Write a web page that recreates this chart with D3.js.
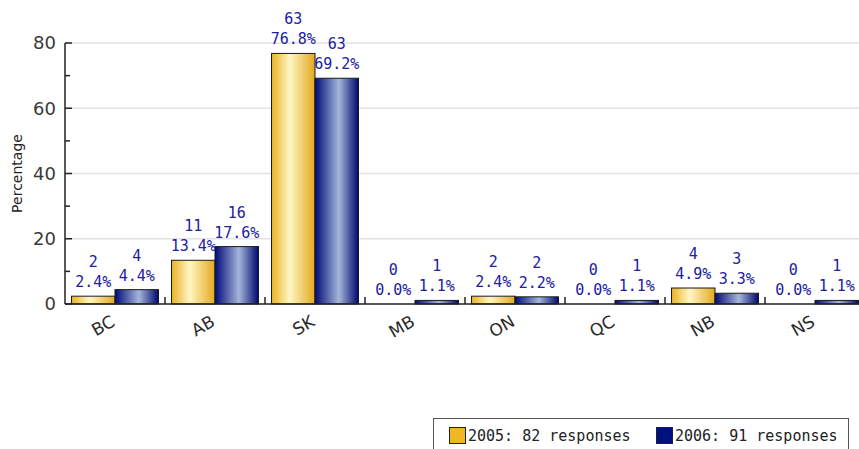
<!DOCTYPE html>
<html>
<head>
<meta charset="utf-8">
<script src="https://cdn.jsdelivr.net/npm/d3@7"></script>
<style>
  html, body { margin: 0; padding: 0; background: #fff; }
  svg { display: block; }
</style>
</head>
<body>
<svg id="chart" width="859" height="449"></svg>
<script>
// Provinces surveyed
const provinces = ["BC", "AB", "SK", "MB", "ON", "QC", "NB", "NS"];
// Survey years shown as paired bars
const seriesNames = ["2005", "2006"];
const legendLabels = ["2005: 82 responses", "2006: 91 responses"];
// Response counts per province
const counts2005 = [2, 11, 63, 0, 2, 0, 4, 0];
const counts2006 = [4, 16, 63, 1, 2, 1, 3, 1];
// Share of responses (%) per province
const pct2005 = [2.4, 13.4, 76.8, 0.0, 2.4, 0.0, 4.9, 0.0];
const pct2006 = [4.4, 17.6, 69.2, 1.1, 2.2, 1.1, 3.3, 1.1];
// Y axis ticks
const yMajorTicks = [0, 20, 40, 60, 80];
const yMinorTicks = [10, 30, 50, 70];

const svg = d3.select("#chart");
const plotLeft = 65, plotRight = 865, plotTop = 43, plotBottom = 304;

const x0 = d3.scaleBand().domain(provinces).range([plotLeft, plotRight])
  .paddingInner(0.13).paddingOuter(0.065);
const x1 = d3.scaleBand().domain(seriesNames).range([0, x0.bandwidth()]);
const y = d3.scaleLinear().domain([0, 80]).range([plotBottom, plotTop]);

const defs = svg.append("defs");
function hGrad(id, stops) {
  const g = defs.append("linearGradient").attr("id", id)
    .attr("x1", "0%").attr("x2", "100%").attr("y1", "0%").attr("y2", "0%");
  stops.forEach(([o, c]) => g.append("stop").attr("offset", o).attr("stop-color", c));
}
hGrad("gGold", [["0%", "#e9b224"], ["42%", "#fff6c4"], ["100%", "#e3a91c"]]);
hGrad("gBlue", [["0%", "#000b78"], ["55%", "#a4b6da"], ["100%", "#00096e"]]);

// Gridlines
svg.append("g").selectAll("line").data(yMajorTicks.filter(d => d > 0)).join("line")
  .attr("x1", plotLeft).attr("x2", plotRight)
  .attr("y1", d => y(d)).attr("y2", d => y(d))
  .attr("stroke", "#e3e3e3").attr("stroke-width", 1.5);

// Bars
const rows = provinces.map((p, i) => ({
  p,
  vals: [
    { s: "2005", pct: pct2005[i], n: counts2005[i], fill: "url(#gGold)" },
    { s: "2006", pct: pct2006[i], n: counts2006[i], fill: "url(#gBlue)" }
  ]
}));

const groups = svg.append("g").selectAll("g").data(rows).join("g")
  .attr("transform", d => `translate(${x0(d.p)},0)`);

groups.selectAll("rect").data(d => d.vals).join("rect")
  .attr("x", d => x1(d.s))
  .attr("width", x1.bandwidth())
  .attr("y", d => y(d.pct))
  .attr("height", d => Math.max(0, y(0) - y(d.pct)))
  .attr("fill", d => d.fill)
  .attr("stroke", "#1a1a1a").attr("stroke-width", 1);

// Value labels: count above percentage
const lab = groups.selectAll("g.lab").data(d => d.vals).join("g").attr("class", "lab")
  .attr("font-family", "'DejaVu Sans Mono', monospace")
  .attr("font-size", 15).attr("fill", "#2020a0").attr("text-anchor", "middle");
lab.append("text")
  .attr("x", d => x1(d.s) + x1.bandwidth() / 2)
  .attr("y", d => y(d.pct) - 9)
  .text(d => d.pct.toFixed(1) + "%");
lab.append("text")
  .attr("x", d => x1(d.s) + x1.bandwidth() / 2)
  .attr("y", d => y(d.pct) - 29)
  .text(d => d.n);

// Y axis
const yAxis = svg.append("g");
yAxis.append("line").attr("x1", plotLeft).attr("x2", plotLeft).attr("y1", plotTop).attr("y2", plotBottom)
  .attr("stroke", "#222").attr("stroke-width", 1.5);
yAxis.selectAll("line.maj").data(yMajorTicks).join("line").attr("class", "maj")
  .attr("x1", plotLeft).attr("x2", plotLeft + 7).attr("y1", d => y(d)).attr("y2", d => y(d))
  .attr("stroke", "#222").attr("stroke-width", 1.5);
yAxis.selectAll("line.min").data(yMinorTicks).join("line").attr("class", "min")
  .attr("x1", plotLeft).attr("x2", plotLeft + 5).attr("y1", d => y(d)).attr("y2", d => y(d))
  .attr("stroke", "#222").attr("stroke-width", 1.5);
yAxis.selectAll("text").data(yMajorTicks).join("text")
  .attr("x", 56).attr("y", d => y(d)).attr("dy", "0.36em")
  .attr("text-anchor", "end")
  .attr("font-family", "'DejaVu Sans', sans-serif").attr("font-size", 18)
  .attr("fill", "#3a3a3a").text(d => d);

svg.append("text")
  .attr("transform", `translate(22,${(plotTop + plotBottom) / 2}) rotate(-90)`)
  .attr("text-anchor", "middle")
  .attr("font-family", "'DejaVu Sans', sans-serif").attr("font-size", 14)
  .attr("fill", "#222").text("Percentage");

// X axis
const xAxis = svg.append("g");
xAxis.append("line").attr("x1", plotLeft).attr("x2", plotRight).attr("y1", plotBottom).attr("y2", plotBottom)
  .attr("stroke", "#222").attr("stroke-width", 1.5);
xAxis.selectAll("line.tk").data(provinces).join("line").attr("class", "tk")
  .attr("x1", d => x0(d) - x0.step() * x0.paddingOuter() + x0.step())
  .attr("x2", d => x0(d) - x0.step() * x0.paddingOuter() + x0.step())
  .attr("y1", plotBottom).attr("y2", plotBottom - 7)
  .attr("stroke", "#222").attr("stroke-width", 1.5);
xAxis.selectAll("text").data(provinces).join("text")
  .attr("transform", d => `translate(${x0(d) + x0.bandwidth() / 2 + 1},${plotBottom + 21}) rotate(-30)`)
  .attr("text-anchor", "end")
  .attr("font-family", "'DejaVu Sans', sans-serif").attr("font-size", 17)
  .attr("fill", "#2a2a2a").text(d => d);

// Legend
const legend = svg.append("g");
legend.append("rect").attr("x", 433.5).attr("y", 418.5).attr("width", 415).attr("height", 40)
  .attr("fill", "#fff").attr("stroke", "#555").attr("stroke-width", 1);
const legItems = [
  { label: legendLabels[0], color: "#f0b626", x: 449 },
  { label: legendLabels[1], color: "#00107e", x: 656 }
];
const li = legend.selectAll("g").data(legItems).join("g")
  .attr("transform", d => `translate(${d.x},427)`);
li.append("rect").attr("x", 0.5).attr("y", 0.5).attr("width", 16).attr("height", 16)
  .attr("fill", d => d.color).attr("stroke", "#222");
li.append("text").attr("x", 19).attr("y", 14)
  .attr("font-family", "'DejaVu Sans Mono', monospace").attr("font-size", 15)
  .attr("fill", "#222").text(d => d.label);
</script>
</body>
</html>
